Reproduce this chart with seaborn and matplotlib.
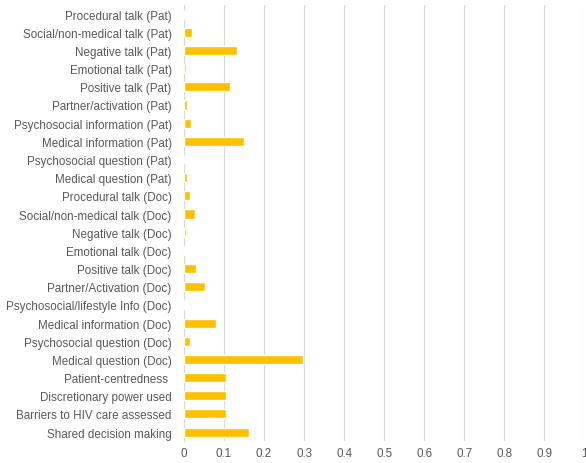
import pandas as pd
import seaborn as sns
import matplotlib.pyplot as plt

# categorie (dall'alto verso il basso)
categories = [
    "Procedural talk (Pat)",
    "Social/non-medical talk (Pat)",
    "Negative talk (Pat)",
    "Emotional talk (Pat)",
    "Positive talk (Pat)",
    "Partner/activation (Pat)",
    "Psychosocial information (Pat)",
    "Medical information (Pat)",
    "Psychosocial question (Pat)",
    "Medical question (Pat)",
    "Procedural talk (Doc)",
    "Social/non-medical talk (Doc)",
    "Negative talk (Doc)",
    "Emotional talk (Doc)",
    "Positive talk (Doc)",
    "Partner/Activation (Doc)",
    "Psychosocial/lifestyle Info (Doc)",
    "Medical information (Doc)",
    "Psychosocial question (Doc)",
    "Medical question (Doc)",
    "Patient-centredness ",
    "Discretionary power used",
    "Barriers to HIV care assessed",
    "Shared decision making",
]
values = [
    0.0, 0.020, 0.133, 0.004, 0.115, 0.008, 0.017, 0.150, 0.0, 0.008,
    0.015, 0.028, 0.006, 0.002, 0.030, 0.052, 0.002, 0.080, 0.016, 0.298,
    0.106, 0.104, 0.106, 0.162,
]
x_ticks = [0, 0.1, 0.2, 0.3, 0.4, 0.5, 0.6, 0.7, 0.8, 0.9, 1]
x_labels = ["0", "0.1", "0.2", "0.3", "0.4", "0.5", "0.6", "0.7", "0.8", "0.9", "1"]

df = pd.DataFrame({"category": categories, "value": values})

sns.set_style("white")
plt.rcParams["font.family"] = ["Liberation Sans", "DejaVu Sans"]

fig = plt.figure(figsize=(5.86, 4.64), dpi=100)
ax = fig.add_axes([0.314, 0.047, 0.683, 0.94])

sns.barplot(data=df, x="value", y="category", color="#FFC000",
            saturation=1, width=0.5, ax=ax, zorder=3)

ax.set_xlim(0, 1)
ax.set_xticks(x_ticks)
ax.set_xticklabels(x_labels)
ax.grid(axis="x", color="#D9D9D9", linewidth=0.8, zorder=0)
ax.set_axisbelow(True)
for s in ["top", "right", "bottom"]:
    ax.spines[s].set_visible(False)
ax.spines["left"].set_color("#D9D9D9")
ax.spines["left"].set_linewidth(0.8)
ax.tick_params(axis="both", length=0, labelsize=8.4, labelcolor="#595959")
ax.tick_params(axis="y", pad=9)
ax.tick_params(axis="x", pad=4)
ax.set_xlabel("")
ax.set_ylabel("")

fig.savefig("out.png", dpi=100)
